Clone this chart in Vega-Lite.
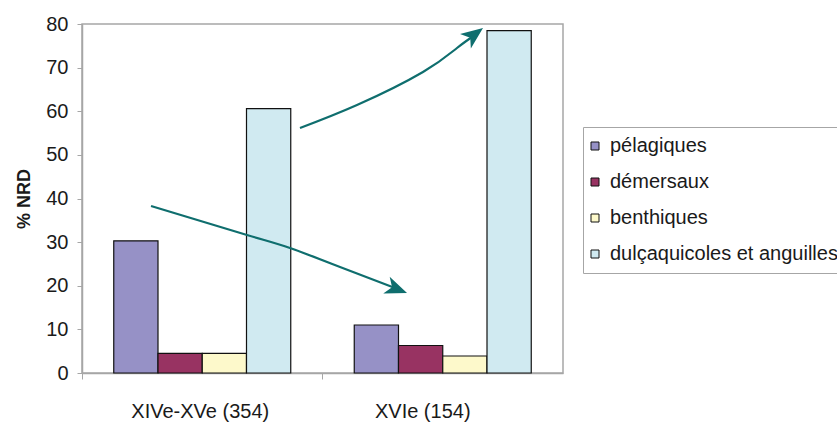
{
  "$schema": "https://vega.github.io/schema/vega-lite/v6.json",
  "width": 481,
  "height": 349,
  "autosize": {"type": "none"},
  "padding": {"left": 82, "top": 24, "right": 274, "bottom": 50},
  "background": "white",
  "config": {
    "font": "Liberation Sans",
    "view": {"stroke": "#a6a6a6", "strokeWidth": 1.5},
    "axis": {"labelFont": "Liberation Sans", "titleFont": "Liberation Sans", "labelColor": "#1a1a1a", "titleColor": "#1a1a1a"},
    "legend": {"labelFont": "Liberation Sans"}
  },
  "datasets": {
    "bars": [
      {"periode": "XIVe-XVe (354)", "groupe": "pélagiques", "pct": 30.3},
      {"periode": "XIVe-XVe (354)", "groupe": "démersaux", "pct": 4.5},
      {"periode": "XIVe-XVe (354)", "groupe": "benthiques", "pct": 4.5},
      {"periode": "XIVe-XVe (354)", "groupe": "dulçaquicoles et anguilles", "pct": 60.6},
      {"periode": "XVIe (154)", "groupe": "pélagiques", "pct": 11.0},
      {"periode": "XVIe (154)", "groupe": "démersaux", "pct": 6.3},
      {"periode": "XVIe (154)", "groupe": "benthiques", "pct": 3.9},
      {"periode": "XVIe (154)", "groupe": "dulçaquicoles et anguilles", "pct": 78.5}
    ],
    "arrows": [
      {"arrow": "baisse", "ord": 1, "u": 14.35, "v": 38.28},
      {"arrow": "baisse", "ord": 2, "u": 34.3, "v": 31.63},
      {"arrow": "baisse", "ord": 3, "u": 43.24, "v": 28.65},
      {"arrow": "baisse", "ord": 4, "u": 53.64, "v": 24.3},
      {"arrow": "baisse", "ord": 5, "u": 65.07, "v": 19.48},
      {"arrow": "hausse", "ord": 1, "u": 45.32, "v": 56.16},
      {"arrow": "hausse", "ord": 2, "u": 57.17, "v": 61.43},
      {"arrow": "hausse", "ord": 3, "u": 70.89, "v": 69.0},
      {"arrow": "hausse", "ord": 4, "u": 77.96, "v": 74.5},
      {"arrow": "hausse", "ord": 5, "u": 81.7, "v": 77.48}
    ],
    "heads": [
      {"arrow": "baisse", "u": 67.57, "v": 18.34},
      {"arrow": "hausse", "u": 83.37, "v": 79.08}
    ]
  },
  "layer": [
    {
      "data": {"name": "bars"},
      "mark": {"type": "bar", "stroke": "#111111", "strokeWidth": 1.2},
      "encoding": {
        "x": {
          "field": "periode", "type": "nominal", "sort": null,
          "scale": {"paddingInner": 0, "paddingOuter": 0},
          "axis": {
            "title": null, "labelAngle": 0, "bandPosition": 0,
            "labelOffset": {"condition": {"test": "datum.value === 'XVIe (154)'", "value": -20}, "value": -2},
            "tickSize": 6, "labelPadding": 22, "labelFontSize": 20, "labelOverlap": false,
            "domainColor": "#a6a6a6", "tickColor": "#a6a6a6", "domainWidth": 1.5
          }
        },
        "xOffset": {
          "field": "groupe", "type": "nominal",
          "sort": ["pélagiques", "démersaux", "benthiques", "dulçaquicoles et anguilles"],
          "scale": {"paddingInner": 0, "paddingOuter": 0.7175}
        },
        "y": {
          "field": "pct", "type": "quantitative",
          "scale": {"domain": [0, 80], "nice": false},
          "axis": {
            "title": "% NRD", "titleFontWeight": "bold", "titleFontSize": 18, "titlePadding": 12,
            "values": [0, 10, 20, 30, 40, 50, 60, 70, 80], "grid": false,
            "tickSize": 5, "labelPadding": 9, "labelFontSize": 20,
            "domainColor": "#a6a6a6", "tickColor": "#a6a6a6", "domainWidth": 1.5
          }
        },
        "color": {
          "field": "groupe", "type": "nominal",
          "scale": {
            "domain": ["pélagiques", "démersaux", "benthiques", "dulçaquicoles et anguilles"],
            "range": ["#9691c6", "#983362", "#fdf9cb", "#d0eaf1"]
          },
          "legend": {
            "title": null, "orient": "none", "legendX": 501, "legendY": 103,
            "labelFontSize": 20, "labelColor": "#1a1a1a", "symbolType": "square", "symbolSize": 64,
            "symbolStrokeColor": "#111111", "symbolStrokeWidth": 1, "symbolOffset": -7,
            "strokeColor": "#a6a6a6", "padding": 9, "rowPadding": 16, "labelOffset": 5,
            "labelLimit": 400
          }
        }
      }
    },
    {
      "data": {"name": "arrows"},
      "mark": {"type": "line", "color": "#0f6e6e", "strokeWidth": 2.2, "interpolate": "natural"},
      "encoding": {
        "x": {"field": "u", "type": "quantitative", "scale": {"domain": [0, 100]}, "axis": null},
        "y": {"field": "v", "type": "quantitative"},
        "detail": {"field": "arrow"},
        "order": {"field": "ord"}
      }
    },
    {
      "data": {"name": "heads"},
      "transform": [{"filter": "datum.arrow === 'baisse'"}],
      "mark": {"type": "point", "shape": "M0,0L-2.2,-0.9L-1.6,0L-2.2,0.9Z", "size": 400, "angle": 21, "filled": true, "fill": "#0f6e6e", "strokeWidth": 0, "opacity": 1},
      "encoding": {
        "x": {"field": "u", "type": "quantitative", "scale": {"domain": [0, 100]}, "axis": null},
        "y": {"field": "v", "type": "quantitative"}
      }
    },
    {
      "data": {"name": "heads"},
      "transform": [{"filter": "datum.arrow === 'hausse'"}],
      "mark": {"type": "point", "shape": "M0,0L-2.2,-0.9L-1.6,0L-2.2,0.9Z", "size": 400, "angle": 323, "filled": true, "fill": "#0f6e6e", "strokeWidth": 0, "opacity": 1},
      "encoding": {
        "x": {"field": "u", "type": "quantitative", "scale": {"domain": [0, 100]}, "axis": null},
        "y": {"field": "v", "type": "quantitative"}
      }
    }
  ],
  "resolve": {"scale": {"x": "independent"}}
}
